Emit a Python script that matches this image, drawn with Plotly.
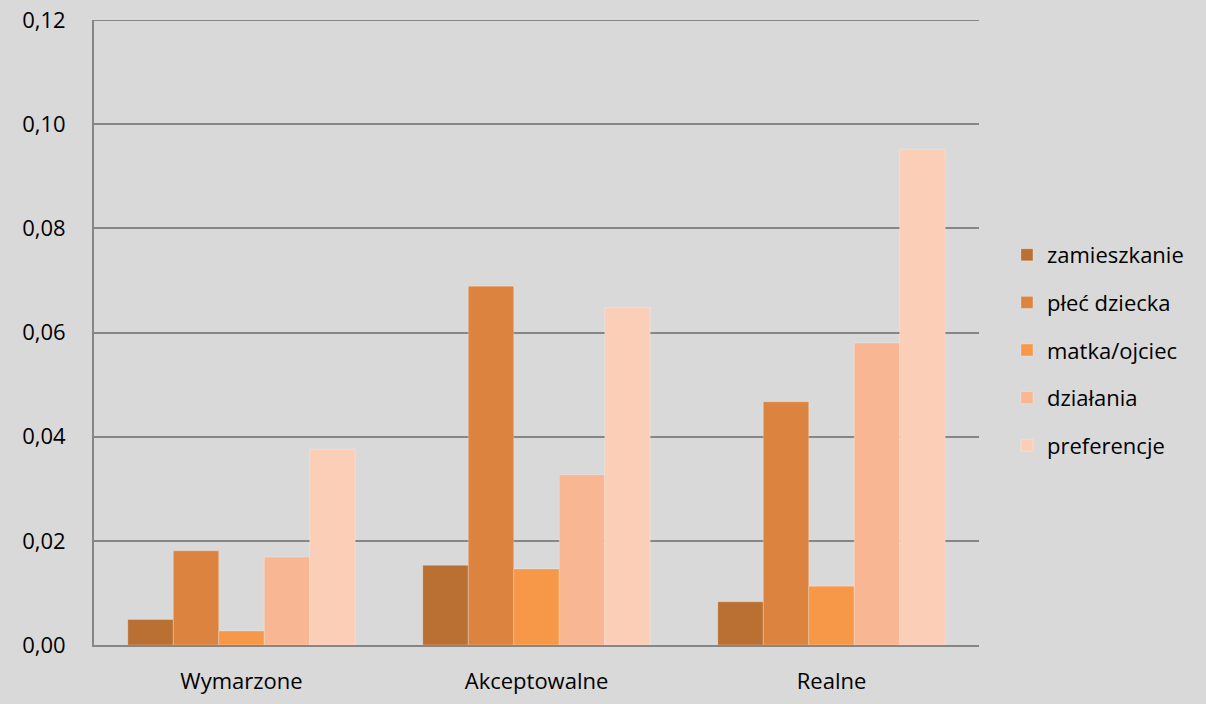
import plotly.graph_objects as go

# Categories and series
categories = ["Wymarzone", "Akceptowalne", "Realne"]
series_names = ["zamieszkanie", "płeć dziecka", "matka/ojciec", "działania", "preferencje"]
zamieszkanie = [0.0049, 0.0153, 0.0083]
plec_dziecka = [0.0181, 0.0689, 0.0467]
matka_ojciec = [0.0027, 0.0146, 0.0113]
dzialania = [0.0169, 0.0327, 0.0580]
preferencje = [0.0376, 0.0648, 0.0952]
y_ticks = [0.00, 0.02, 0.04, 0.06, 0.08, 0.10, 0.12]

values = [zamieszkanie, plec_dziecka, matka_ojciec, dzialania, preferencje]
colors = ["#BA7033", "#DC843F", "#F79848", "#F9B692", "#FBCEB8"]

FONT = "Open Sans"
GRID = "#868686"

fig = go.Figure()
for i, (name, vals, col) in enumerate(zip(series_names, values, colors)):
    fig.add_trace(go.Bar(
        x=categories, y=vals, name=name,
        marker=dict(color=col, line=dict(color="rgba(255,255,255,0.25)", width=1)),
        legendgroup=f"g{i}",
    ))

# top gridline at the upper end of the value range
fig.add_shape(type="line", xref="paper", yref="y", x0=0, x1=1,
              y0=y_ticks[-1], y1=y_ticks[-1], line=dict(color=GRID, width=2), layer="below")

fig.update_layout(
    width=1206, height=704,
    margin=dict(l=94, r=227, t=20, b=59, autoexpand=False),
    paper_bgcolor="#D9D9D9",
    plot_bgcolor="#D9D9D9",
    barmode="group",
    bargap=0.229,
    bargroupgap=0,
    separators=", ",
    font=dict(family=FONT, size=22, color="#000000"),
    legend=dict(
        x=1.0316, xanchor="left",
        y=0.472, yanchor="middle",
        bgcolor="rgba(0,0,0,0)",
        font=dict(family=FONT, size=22, color="#000000"),
        tracegroupgap=16,
        itemwidth=30,
    ),
    xaxis=dict(
        showgrid=False, automargin=False,
        showline=True, linecolor=GRID, linewidth=2,
        ticks="", ticklabelstandoff=16,
        tickfont=dict(family=FONT, size=22),
    ),
    yaxis=dict(
        range=[0, 0.12], automargin=False,
        tickvals=y_ticks,
        tickformat=".2f",
        showgrid=True, gridcolor=GRID, gridwidth=2,
        showline=True, linecolor=GRID, linewidth=2,
        zeroline=False,
        ticks="", ticklabelstandoff=22,
        tickfont=dict(family=FONT, size=22),
    ),
)

fig.write_html("out.html")
